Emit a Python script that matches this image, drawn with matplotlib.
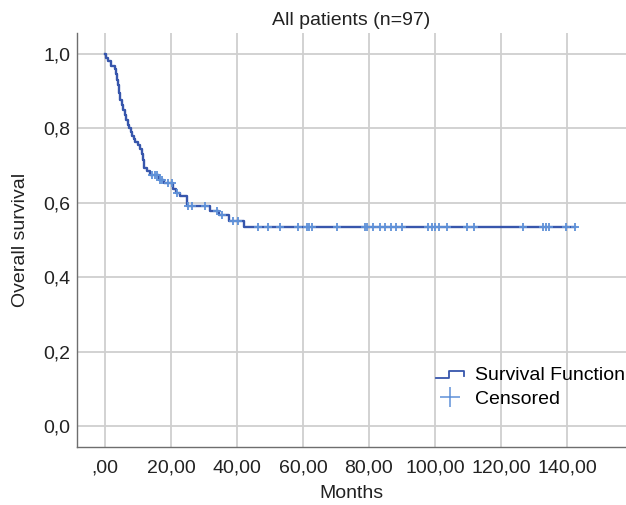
import numpy as np
import matplotlib.pyplot as plt
from matplotlib.lines import Line2D
from matplotlib.legend_handler import HandlerBase

plt.rcParams['font.family'] = ['Liberation Sans', 'DejaVu Sans']

# Kaplan-Meier steps (month of event, survival after it)
event_months = [0.4, 0.8, 1.7, 3.0, 3.3, 3.6, 3.9, 4.2, 4.5, 5.0, 5.5, 6.0, 6.4,
                6.9, 7.3, 7.8, 8.2, 8.7, 9.2, 10.0, 10.7, 11.2, 11.5, 11.7, 11.9,
                12.7, 13.6, 16.5, 18.0, 20.6, 21.5, 22.8, 24.8, 31.8, 34.5, 37.5, 42.0]
survival = [0.990, 0.980, 0.968, 0.958, 0.945, 0.930, 0.915, 0.895, 0.875, 0.862,
            0.850, 0.835, 0.822, 0.810, 0.800, 0.790, 0.780, 0.772, 0.762, 0.755,
            0.745, 0.732, 0.715, 0.700, 0.692, 0.686, 0.675, 0.662, 0.652, 0.637,
            0.627, 0.617, 0.592, 0.579, 0.566, 0.551, 0.534]

# censored patients (months)
censored_months = [14.1, 15.2, 15.6, 16.7, 17.2, 19.2, 20.2, 21.7, 25.2, 26.3,
                   30.3, 33.8, 35.4, 38.9, 40.4, 46.5, 49.5, 53.0, 58.6, 61.1,
                   61.9, 62.7, 70.2, 78.8, 79.3, 81.3, 83.3, 84.8, 86.6, 88.2,
                   89.9, 98.0, 99.0, 100.0, 101.3, 103.5, 109.6, 111.8, 126.8,
                   132.8, 133.6, 134.5, 139.7, 142.4]

x_ticks = [0, 20, 40, 60, 80, 100, 120, 140]
x_labels = [',00', '20,00', '40,00', '60,00', '80,00', '100,00', '120,00', '140,00']
y_ticks = [0.0, 0.2, 0.4, 0.6, 0.8, 1.0]
y_labels = ['0,0', '0,2', '0,4', '0,6', '0,8', '1,0']

line_col = '#3756ac'
cens_col = '#5f91d8'

# full step curve from t=0 to last follow-up
t_curve = np.concatenate([[0.0], event_months, [max(censored_months)]])
s_curve = np.concatenate([[1.0], survival, [survival[-1]]])


def surv_at(t):
    idx = np.searchsorted(event_months, t, side='right')
    return 1.0 if idx == 0 else survival[idx - 1]


cens_s = [surv_at(t) for t in censored_months]


class StepHandler(HandlerBase):
    # small step icon like the SPSS legend
    def create_artists(self, legend, orig_handle, xdescent, ydescent,
                       width, height, fontsize, trans):
        x0 = -xdescent
        y0 = -ydescent
        xs = [x0, x0 + 0.45 * width, x0 + 0.45 * width, x0 + width, x0 + width]
        ys = [y0 + 0.1 * height, y0 + 0.1 * height, y0 + 0.65 * height,
              y0 + 0.65 * height, y0 + 0.3 * height]
        ln = Line2D(xs, ys, color=orig_handle.get_color(), lw=1.3, transform=trans)
        return [ln]


fig = plt.figure(figsize=(6.26, 5.05), dpi=100)
ax = fig.add_axes([77 / 626, 1 - 447 / 505, 549 / 626, 414 / 505])

ax.step(t_curve, s_curve, where='post', color=line_col, lw=1.7, zorder=3)
ax.plot(censored_months, cens_s, '+', color=cens_col, ms=5.5, mew=1.3, zorder=4)

ax.set_xlim(-8.5, 157.9)
ax.set_ylim(-0.0565, 1.056)
ax.set_xticks(x_ticks)
ax.set_xticklabels(x_labels)
ax.set_yticks(y_ticks)
ax.set_yticklabels(y_labels)
ax.tick_params(axis='both', length=0, labelsize=14, colors='#222222')
ax.tick_params(axis='x', pad=9)
ax.tick_params(axis='y', pad=5)
ax.grid(True, color='#cfcfcf', lw=1.3)
ax.set_axisbelow(True)

for side in ['top', 'right']:
    ax.spines[side].set_visible(False)
for side in ['left', 'bottom']:
    ax.spines[side].set_color('#6e6e6e')
    ax.spines[side].set_linewidth(1.0)

ax.set_title('All patients (n=97)', fontsize=14, pad=6, color='#222222')
ax.set_xlabel('Months', fontsize=14, labelpad=6, color='#222222')
ax.set_ylabel('Overall survival', fontsize=14, labelpad=10, color='#222222')

h_line = Line2D([], [], color=line_col)
h_cens = Line2D([], [], color=cens_col, marker='+', ls='none', ms=14, mew=1.1)
ax.legend([h_line, h_cens], ['Survival Function', 'Censored'],
          handler_map={h_line: StepHandler()},
          loc='lower right', bbox_to_anchor=(1.013, 0.075), frameon=False,
          fontsize=14, handlelength=1.4, handletextpad=0.6,
          labelspacing=0.35, borderaxespad=0.0)

fig.savefig('out.png', dpi=100)
